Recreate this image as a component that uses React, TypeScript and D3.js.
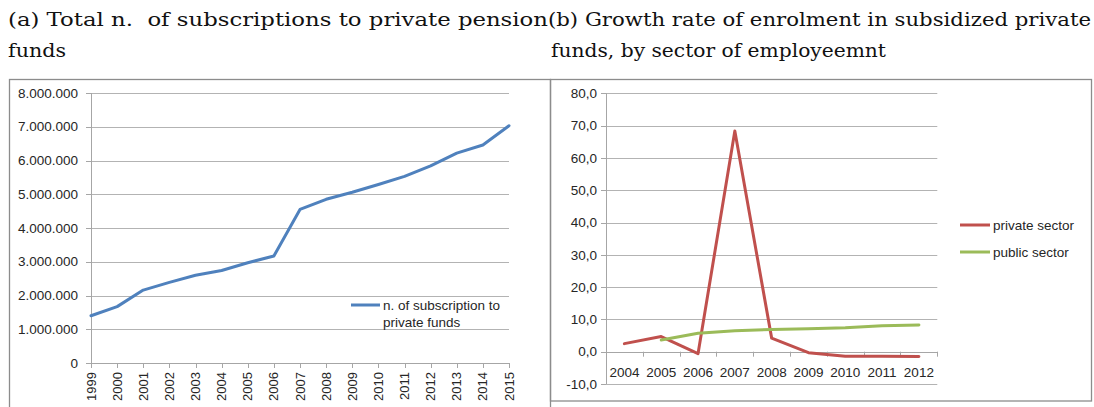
import React from "react";
import * as d3 from "d3";

const yearsA = ["1999","2000","2001","2002","2003","2004","2005","2006","2007","2008","2009","2010","2011","2012","2013","2014","2015"];
const subscriptions = [1400000,1670000,2160000,2390000,2600000,2740000,2970000,3170000,4550000,4850000,5060000,5290000,5530000,5840000,6220000,6460000,7030000];
const yTicksA = [0,1000000,2000000,3000000,4000000,5000000,6000000,7000000,8000000];

const yearsB = ["2004","2005","2006","2007","2008","2009","2010","2011","2012"];
const privateSector = [2.5,4.7,-0.6,68.3,4.2,-0.3,-1.4,-1.4,-1.5];
const publicSector = [null,3.6,5.7,6.5,6.9,7.1,7.4,8.0,8.3];
const yTicksB = [-10,0,10,20,30,40,50,60,70,80];

const locale = d3.formatLocale({ decimal: ",", thousands: ".", grouping: [3], currency: ["", ""], minus: "-" });
const fmtA = locale.format(",d");
const fmtB = locale.format(".1f");

const GRID = "#B3B3B3";
const AXIS = "#A6A6A6";
const BORDER = "#8C8C8C";
const TXT = "#262626";
const SANS = "'Liberation Sans', Arial, sans-serif";
const SERIF = "'DejaVu Serif', 'Liberation Serif', serif";

export default function App() {
  // Left chart
  const xA = d3.scalePoint<string>().domain(yearsA).range([91, 509]);
  const yA = d3.scaleLinear().domain([0, 8000000]).range([363, 93]);
  const lineA = d3.line<number>().x((_, i) => xA(yearsA[i])!).y(d => yA(d));

  // Right chart
  const xB = d3.scaleBand<string>().domain(yearsB).range([606, 937.3]);
  const yB = d3.scaleLinear().domain([-10, 80]).range([384, 93.3]);
  const cx = (y: string) => xB(y)! + xB.bandwidth() / 2;
  const lineB = d3.line<number | null>()
    .defined(d => d !== null)
    .x((_, i) => cx(yearsB[i]))
    .y(d => yB(d as number));

  return (
    <svg width={1094} height={407} style={{ position: "absolute", left: 0, top: 0, background: "#fff" }}>
      {/* Titles */}
      <g fontFamily={SERIF} fontSize={18} fill="#111">
        <text x={8} y={26} textLength={540} lengthAdjust="spacingAndGlyphs" style={{ whiteSpace: "pre" }}>(a) Total n.  of subscriptions to private pension</text>
        <text x={8} y={57} textLength={58} lengthAdjust="spacingAndGlyphs">funds</text>
        <text x={548} y={26} textLength={543} lengthAdjust="spacingAndGlyphs">(b) Growth rate of enrolment in subsidized private</text>
        <text x={551} y={57} textLength={335} lengthAdjust="spacingAndGlyphs">funds, by sector of employeemnt</text>
      </g>

      {/* Boxes */}
      <rect x={9.5} y={79.5} width={541} height={340} fill="none" stroke={BORDER} strokeWidth={1.3} />
      <rect x={550.5} y={79.5} width={541} height={321.5} fill="none" stroke={BORDER} strokeWidth={1.3} />

      {/* Left chart */}
      <g>
        {yTicksA.map(t => (
          <g key={t}>
            {t !== 0 && <line x1={xA.range()[0]} x2={xA.range()[1]} y1={Math.round(yA(t)) + 0.5} y2={Math.round(yA(t)) + 0.5} stroke={GRID} strokeWidth={1} />}
            <line x1={86} x2={91} y1={Math.round(yA(t)) + 0.5} y2={Math.round(yA(t)) + 0.5} stroke={AXIS} />
            <text x={78} y={yA(t)} dy="0.35em" textAnchor="end" fontFamily={SANS} fontSize={13.5} fill={TXT}>{fmtA(t)}</text>
          </g>
        ))}
        <line x1={91.5} x2={91.5} y1={yA(8000000)} y2={yA(0)} stroke={AXIS} />
        <line x1={91} x2={509} y1={Math.round(yA(0)) + 0.5} y2={Math.round(yA(0)) + 0.5} stroke={AXIS} />
        {yearsA.map(y => (
          <g key={y}>
            <line x1={Math.round(xA(y)!) + 0.5} x2={Math.round(xA(y)!) + 0.5} y1={yA(0)} y2={yA(0) + 5} stroke={AXIS} />
            <text transform={`translate(${xA(y)},372) rotate(-90)`} textAnchor="end" dy="0.35em" fontFamily={SANS} fontSize={13} fill={TXT}>{y}</text>
          </g>
        ))}
        <path d={lineA(subscriptions) || ""} fill="none" stroke="#4F81BD" strokeWidth={3} strokeLinejoin="round" strokeLinecap="round" />
        {/* Legend */}
        <line x1={351} x2={380} y1={305} y2={305} stroke="#4F81BD" strokeWidth={3} />
        <text x={383} y={305} dy="0.35em" fontFamily={SANS} fontSize={13.5} fill={TXT}>n. of subscription to</text>
        <text x={383} y={322} dy="0.35em" fontFamily={SANS} fontSize={13.5} fill={TXT}>private funds</text>
      </g>

      {/* Right chart */}
      <g>
        {yTicksB.map(t => (
          <g key={t}>
            {t !== 0 && <line x1={606} x2={937.3} y1={Math.round(yB(t)) + 0.5} y2={Math.round(yB(t)) + 0.5} stroke={GRID} />}
            <line x1={601} x2={606} y1={Math.round(yB(t)) + 0.5} y2={Math.round(yB(t)) + 0.5} stroke={AXIS} />
            <text x={597} y={yB(t)} dy="0.35em" textAnchor="end" fontFamily={SANS} fontSize={13.5} fill={TXT}>{fmtB(t)}</text>
          </g>
        ))}
        <line x1={606.5} x2={606.5} y1={yB(80)} y2={yB(-10)} stroke={AXIS} />
        <line x1={606} x2={937.3} y1={Math.round(yB(0)) + 0.5} y2={Math.round(yB(0)) + 0.5} stroke={AXIS} />
        {yearsB.map(y => (
          <g key={y}>
            <line x1={Math.round(xB(y)! + xB.bandwidth()) + 0.5} x2={Math.round(xB(y)! + xB.bandwidth()) + 0.5} y1={yB(0)} y2={yB(0) + 5} stroke={AXIS} />
            <text x={cx(y)} y={372} dy="0.35em" textAnchor="middle" fontFamily={SANS} fontSize={13.5} fill={TXT}>{y}</text>
          </g>
        ))}
        <path d={lineB(privateSector) || ""} fill="none" stroke="#C0504D" strokeWidth={3} strokeLinejoin="round" strokeLinecap="round" />
        <path d={lineB(publicSector) || ""} fill="none" stroke="#9BBB59" strokeWidth={3} strokeLinejoin="round" strokeLinecap="round" />
        {/* Legend */}
        <line x1={960} x2={990} y1={225} y2={225} stroke="#C0504D" strokeWidth={3} />
        <text x={993} y={225} dy="0.35em" fontFamily={SANS} fontSize={13.5} fill={TXT}>private sector</text>
        <line x1={960} x2={990} y1={252} y2={252} stroke="#9BBB59" strokeWidth={3} />
        <text x={993} y={252} dy="0.35em" fontFamily={SANS} fontSize={13.5} fill={TXT}>public sector</text>
      </g>
    </svg>
  );
}
